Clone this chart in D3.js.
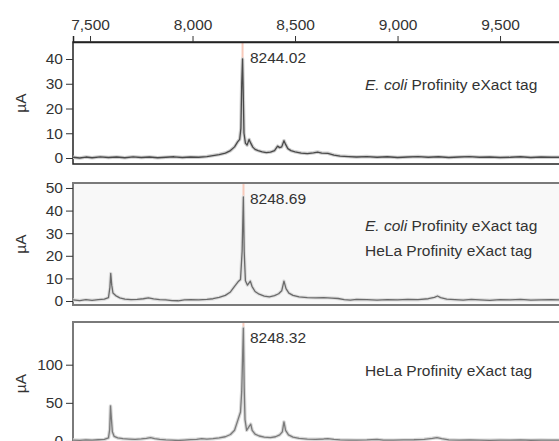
<!DOCTYPE html>
<html>
<head>
<meta charset="utf-8">
<script src="https://cdn.jsdelivr.net/npm/d3@7"></script>
<style>
  body { margin: 0; background: #fff; }
  svg { display: block; font-family: "Liberation Sans", Arial, Helvetica, sans-serif; }
  .tick text { fill: #333; font-size: 15.5px; }
  .tick line { stroke: #333; }
</style>
</head>
<body>
<div id="chart"></div>
<script>
// Mass ticks shown on the top axis (Da)
const massTicks = [7500, 8000, 8500, 9000, 9500]

// Spectrum 1: E. coli expressed tag, [mass, µA]
const ecoliSpec = [
  [7417, 0.3], [7450, 0.0], [7480, 0.4], [7510, 0.1], [7550, 0.5], [7590, 0.2],
  [7630, 0.4], [7670, 0.1], [7710, 0.5], [7750, 0.2], [7790, 0.4], [7830, 0.1],
  [7870, 0.3], [7910, 0.5], [7950, 0.2], [7990, 0.4], [8030, 0.3], [8070, 0.6],
  [8100, 1.0], [8130, 1.4], [8160, 2.0], [8185, 3.0], [8205, 4.5], [8220, 6.5],
  [8230, 7.5], [8236, 12], [8240, 30], [8244, 40], [8247, 28], [8251, 10],
  [8258, 6.0], [8266, 5.2], [8276, 7.5], [8284, 6.0], [8294, 4.4], [8305, 3.5],
  [8320, 3.0], [8340, 2.5], [8360, 2.2], [8380, 2.4], [8400, 3.0], [8415, 4.8],
  [8425, 4.2], [8435, 4.5], [8446, 7.0], [8454, 5.5], [8465, 3.8], [8480, 3.0],
  [8500, 2.5], [8530, 2.0], [8560, 1.8], [8590, 2.1], [8610, 2.4], [8630, 2.0],
  [8660, 1.9], [8690, 1.2], [8720, 0.8], [8760, 0.6], [8800, 0.4], [8850, 0.6],
  [8900, 0.3], [8950, 0.5], [9000, 0.2], [9050, 0.4], [9100, 0.6], [9150, 0.3],
  [9200, 0.5], [9250, 0.2], [9300, 0.4], [9350, 0.6], [9400, 0.3], [9450, 0.4],
  [9500, 0.2], [9550, 0.3], [9600, 0.5], [9650, 0.2], [9700, 0.4], [9750, 0.3],
  [9800, 0.3], [9890, 0.3]
]

// Spectrum 2: E. coli and HeLa tags together
const mixSpec = [
  [7417, 0.5], [7450, 0.2], [7480, 0.6], [7510, 0.3], [7540, 0.6], [7570, 0.8],
  [7590, 1.5], [7597, 6], [7601, 12.2], [7606, 7], [7612, 3.5], [7625, 2.4],
  [7645, 1.4], [7670, 0.8], [7700, 0.6], [7730, 0.7], [7760, 1.0], [7785, 1.4],
  [7810, 0.9], [7840, 0.6], [7870, 0.5], [7900, 0.2], [7930, 0.1], [7960, 0.5],
  [7990, 0.6], [8030, 0.5], [8070, 0.7], [8100, 1.0], [8130, 1.6], [8160, 2.5],
  [8185, 4.0], [8205, 6.5], [8222, 8.5], [8234, 9.5], [8242, 22], [8248, 46],
  [8252, 22], [8258, 9], [8268, 7], [8282, 8.8], [8290, 6.5], [8305, 4.2],
  [8325, 3.0], [8350, 2.2], [8375, 1.8], [8400, 2.4], [8420, 3.2], [8435, 4.5],
  [8446, 8.8], [8456, 5.5], [8470, 3.5], [8490, 2.5], [8520, 1.8], [8560, 1.5],
  [8600, 1.4], [8640, 1.5], [8680, 1.3], [8710, 1.1], [8740, 0.6], [8770, 0.4],
  [8800, 0.7], [8850, 0.6], [8900, 0.4], [8950, 0.6], [9000, 0.5], [9050, 0.7],
  [9100, 0.6], [9150, 1.0], [9180, 1.6], [9195, 2.2], [9210, 1.5], [9240, 0.8],
  [9280, 0.6], [9320, 0.4], [9360, 0.7], [9400, 0.5], [9450, 0.3], [9500, 0.6],
  [9550, 0.5], [9600, 0.7], [9650, 0.4], [9700, 0.5], [9750, 0.6], [9800, 0.5],
  [9890, 0.5]
]

// Spectrum 3: HeLa expressed tag
const helaSpec = [
  [7417, 1.2], [7450, 0.8], [7480, 1.5], [7510, 1.0], [7540, 1.6], [7570, 2.0],
  [7590, 4], [7596, 15], [7600, 46], [7604, 30], [7609, 12], [7618, 6],
  [7635, 4], [7660, 3], [7690, 2.5], [7720, 2], [7750, 2.6], [7775, 3.5],
  [7795, 4.5], [7815, 3.2], [7840, 2.2], [7870, 1.5], [7900, 1.0], [7930, 0.6],
  [7960, 1.2], [7990, 1.8], [8020, 2.2], [8045, 3.0], [8070, 2.4], [8100, 3.0],
  [8130, 4.0], [8160, 5.5], [8185, 8.5], [8205, 14], [8222, 28], [8234, 38],
  [8240, 65], [8248, 148], [8252, 70], [8256, 28], [8264, 14], [8274, 18],
  [8284, 22], [8291, 14], [8305, 9], [8325, 6.5], [8350, 5], [8380, 4.5],
  [8405, 5.5], [8425, 8], [8438, 12], [8446, 25], [8454, 14], [8468, 8],
  [8490, 5], [8520, 3.5], [8560, 2.5], [8600, 2.2], [8640, 2.6], [8660, 3.0],
  [8690, 2.0], [8720, 1.5], [8760, 1.2], [8800, 1.0], [8850, 1.3], [8900, 2.0],
  [8930, 1.2], [8980, 1.0], [9030, 1.4], [9080, 1.6], [9130, 2.2], [9170, 3.5],
  [9192, 4.5], [9215, 3.0], [9250, 1.5], [9300, 1.0], [9350, 1.4], [9400, 1.0],
  [9450, 0.8], [9500, 1.2], [9550, 1.0], [9600, 1.3], [9650, 0.9], [9700, 1.1],
  [9750, 1.0], [9800, 1.0], [9890, 1.0]
]

// per-panel y ticks, peak labels and sample labels
const yTicks = [[0, 10, 20, 30, 40], [0, 10, 20, 30, 40, 50], [0, 50, 100]]
const peakMass = [8244.02, 8248.69, 8248.32]
const peakTop = [40, 46, 148]
const sampleLabels = [
  [["E. coli", " Profinity eXact tag"]],
  [["E. coli", " Profinity eXact tag"], ["", "HeLa Profinity eXact tag"]],
  [["", "HeLa Profinity eXact tag"]]
]

const W = 559, H = 441
const svg = d3.select("#chart").append("svg")
  .attr("width", W).attr("height", H)

// x scale shared by all three panels
const x = d3.scaleLinear().domain([7417, 9890]).range([73, 580])

// panel layout: pixel box and value domain
const panels = [
  {spec: ecoliSpec, top: 42,  bottom: 164, dom: [-2.42, 46.87], bg: "#fff",    frame: "#222", line: "#4a4a4a", halo: "#cfcfcf"},
  {spec: mixSpec,   top: 183, bottom: 305, dom: [-1.77, 52.2],  bg: "#f8f8f8", frame: "#7a7a7a", line: "#6a6a6a", halo: "#dedede"},
  {spec: helaSpec,  top: 322, bottom: 445, dom: [-5.3, 156],    bg: "#fff",    frame: "#7a7a7a", line: "#7a7a7a", halo: "#d8d8d8"}
]

panels.forEach((p, i) => {
  const y = d3.scaleLinear().domain(p.dom).range([p.bottom, p.top])
  const g = svg.append("g")

  g.append("rect")
    .attr("x", 73).attr("y", p.top)
    .attr("width", 520).attr("height", p.bottom - p.top)
    .attr("fill", p.bg)
    .attr("stroke", p.frame)
    .attr("stroke-width", i == 0 ? 1.5 : 2)

  // light red marker above the main peak
  g.append("line")
    .attr("x1", x(peakMass[i])).attr("x2", x(peakMass[i]))
    .attr("y1", p.top + 1).attr("y2", y(peakTop[i]))
    .attr("stroke", "#f7c9ba").attr("stroke-width", 2)

  const line = d3.line().x(d => x(d[0])).y(d => y(d[1]))

  g.append("path")
    .datum(p.spec)
    .attr("d", line)
    .attr("fill", "none")
    .attr("stroke", p.halo)
    .attr("stroke-width", 3.5)
    .attr("stroke-linejoin", "round")

  g.append("path")
    .datum(p.spec)
    .attr("d", line)
    .attr("fill", "none")
    .attr("stroke", p.line)
    .attr("stroke-width", 1.3)
    .attr("stroke-linejoin", "round")

  // y axis
  const ya = g.append("g")
    .attr("transform", "translate(73,0)")
    .call(d3.axisLeft(y).tickValues(yTicks[i]).tickSize(7).tickPadding(3))
  ya.select(".domain").remove()

  g.append("text")
    .attr("transform", `translate(26,${(p.top + p.bottom) / 2}) rotate(-90)`)
    .attr("text-anchor", "middle")
    .attr("font-size", 15.5).attr("fill", "#333")
    .text("µA")

  g.append("text")
    .attr("x", 250).attr("y", p.top + 21)
    .attr("font-size", 15.5).attr("fill", "#333")
    .text(peakMass[i].toFixed(2))

  sampleLabels[i].forEach((lab, j) => {
    const t = g.append("text")
      .attr("x", 365).attr("y", i == 2 ? p.top + 54 : p.top + 48 + j * 25)
      .attr("font-size", 15.5).attr("fill", "#333")
    if (lab[0]) t.append("tspan").attr("font-style", "italic").text(lab[0])
    t.append("tspan").text(lab[1])
  })
})

// top mass axis
const xa = svg.append("g")
  .attr("transform", "translate(0,42)")
  .call(d3.axisTop(x).tickValues(massTicks).tickFormat(d3.format(",")).tickSize(6).tickPadding(6))
xa.select(".domain").attr("stroke", "#222").attr("stroke-width", 1.5)
</script>
</body>
</html>
